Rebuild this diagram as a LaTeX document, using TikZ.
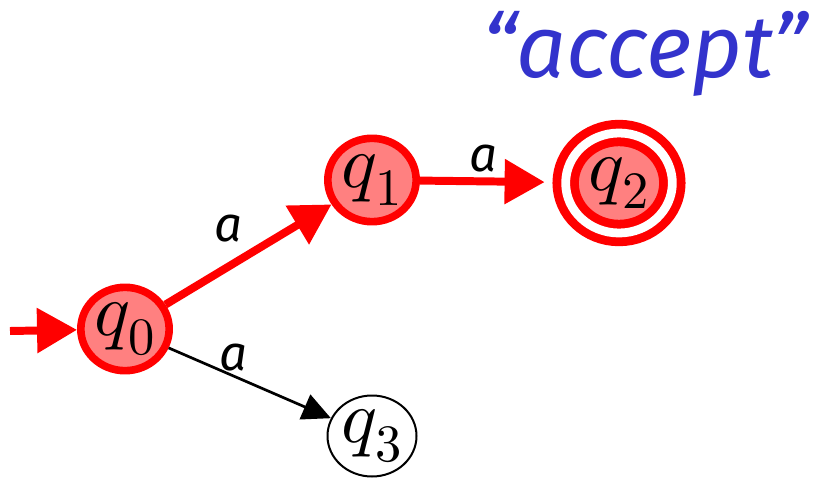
\documentclass[tikz,border=0pt]{standalone}
\usepackage{fontspec}
\usepackage{unicode-math}
\usepackage{tikz}
\usetikzlibrary{arrows.meta,positioning,shapes.geometric}
\newfontfamily\lblfont{Fira Sans}
\definecolor{accblue}{HTML}{3333CC}
\tikzset{
  st/.style={ellipse,draw=black,line width=1.7pt,inner sep=0pt,
    minimum width=2.67cm,minimum height=2.43cm,font=\fontsize{64}{64}\selectfont},
  redst/.style={st,draw=red,fill=red!50,line width=6.5pt,
    minimum width=2.65cm,minimum height=2.5cm},
  accst/.style={redst,double=white,double distance=7.5pt,line width=7.5pt,
    minimum width=3.2cm,minimum height=3.0cm},
  redge/.style={-{Triangle[length=1.2cm,width=1.3cm]},red,line width=6.8pt},
  bedge/.style={-{Triangle[length=0.85cm,width=0.8cm]},line width=2.3pt},
  lbl/.style={inner sep=2pt,text=black,font=\lblfont\itshape\fontsize{42}{42}\selectfont}
}
\begin{document}
\begin{tikzpicture}[x=0.03cm,y=-0.03cm]
\useasboundingbox (0,0) rectangle (814,485);
% states
\node[redst] (q0) at (125,329) {$q_0$};
\node[redst] (q1) at (372,180) {$q_1$};
\node[accst] (q2) at (619,183) {$q_2$};
\node[st] (q3) at (372,436) {$q_3$};
\coordinate (init) at (10,331);
\node[text=accblue,font=\lblfont\itshape\fontsize{75}{75}\selectfont] (acc) at (645,54) {“accept”};
% transitions
\draw[redge] (init) -- (q0);
\draw[redge] (q0) -- node[lbl,above left=0.18cm and 0cm] (a1) {a} (q1);
\draw[redge,shorten >=0.5cm] (q1) -- node[lbl,pos=.45,above=0.09cm] (a2) {a} (q2);
\draw[bedge] (q0) -- node[lbl,pos=.4,above=0.05cm] (a3) {a} (q3);
\end{tikzpicture}
\end{document}
